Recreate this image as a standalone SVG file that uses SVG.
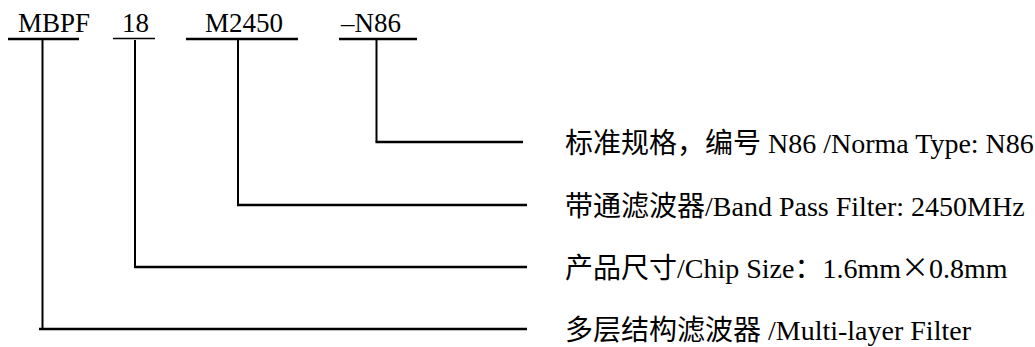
<svg xmlns="http://www.w3.org/2000/svg" width="1035" height="347" viewBox="0 0 1035 347">
<style>
.lbl{font-family:"Liberation Serif","Noto Sans CJK SC",serif;font-size:27px;fill:#000}
.desc{font-family:"Liberation Serif","Noto Sans CJK SC",serif;font-size:28px;fill:#000}
.cjk{font-family:"Noto Sans CJK SC",sans-serif}
.bar{stroke:#000;stroke-width:2.5;fill:none}
.thin{stroke:#000;stroke-width:1.5;fill:none}
.v{stroke:#000;stroke-width:2;fill:none}
.h{stroke:#000;stroke-width:2.5;fill:none}
</style>
<rect width="1035" height="347" fill="#fff"/>
<g id="code-mbpf">
<text class="lbl" x="18" y="32">MBPF</text>
<line class="bar" x1="8" y1="39" x2="79" y2="39"/>
</g>
<g id="code-18">
<text class="lbl" x="122" y="32">18</text>
<line class="thin" x1="113" y1="38.5" x2="155" y2="38.5"/>
</g>
<g id="code-m2450">
<text class="lbl" x="205" y="32">M2450</text>
<line class="bar" x1="186" y1="39" x2="298" y2="39"/>
</g>
<g id="code-n86">
<text class="lbl" x="341" y="32">–N86</text>
<line class="bar" x1="339" y1="39" x2="417" y2="39"/>
</g>
<g id="desc-n86">
<text class="desc" x="565" y="153">标准规格，编号 N86 /Norma Type: N86</text>
</g>
<g id="desc-m2450">
<text class="desc" x="565" y="216">带通滤波器/Band Pass Filter: 2450MHz</text>
</g>
<g id="desc-18">
<text class="desc" x="565" y="278">产品尺寸/Chip Size：1.6mm<tspan class="cjk">×</tspan>0.8mm</text>
</g>
<g id="desc-mbpf">
<text class="desc" x="565" y="340">多层结构滤波器 /Multi-layer Filter</text>
</g>
<g id="connectors">
<polyline class="v" points="376.5,40 376.5,142"/>
<line class="h" x1="375.5" y1="142" x2="523" y2="142"/>
<polyline class="v" points="238,40 238,205"/>
<line class="h" x1="237" y1="205" x2="527" y2="205"/>
<polyline class="v" points="135,40 135,267"/>
<line class="h" x1="134" y1="267" x2="527" y2="267"/>
<polyline class="v" points="42.5,40 42.5,329"/>
<line class="h" x1="39" y1="329" x2="527" y2="329"/>
</g>
</svg>
